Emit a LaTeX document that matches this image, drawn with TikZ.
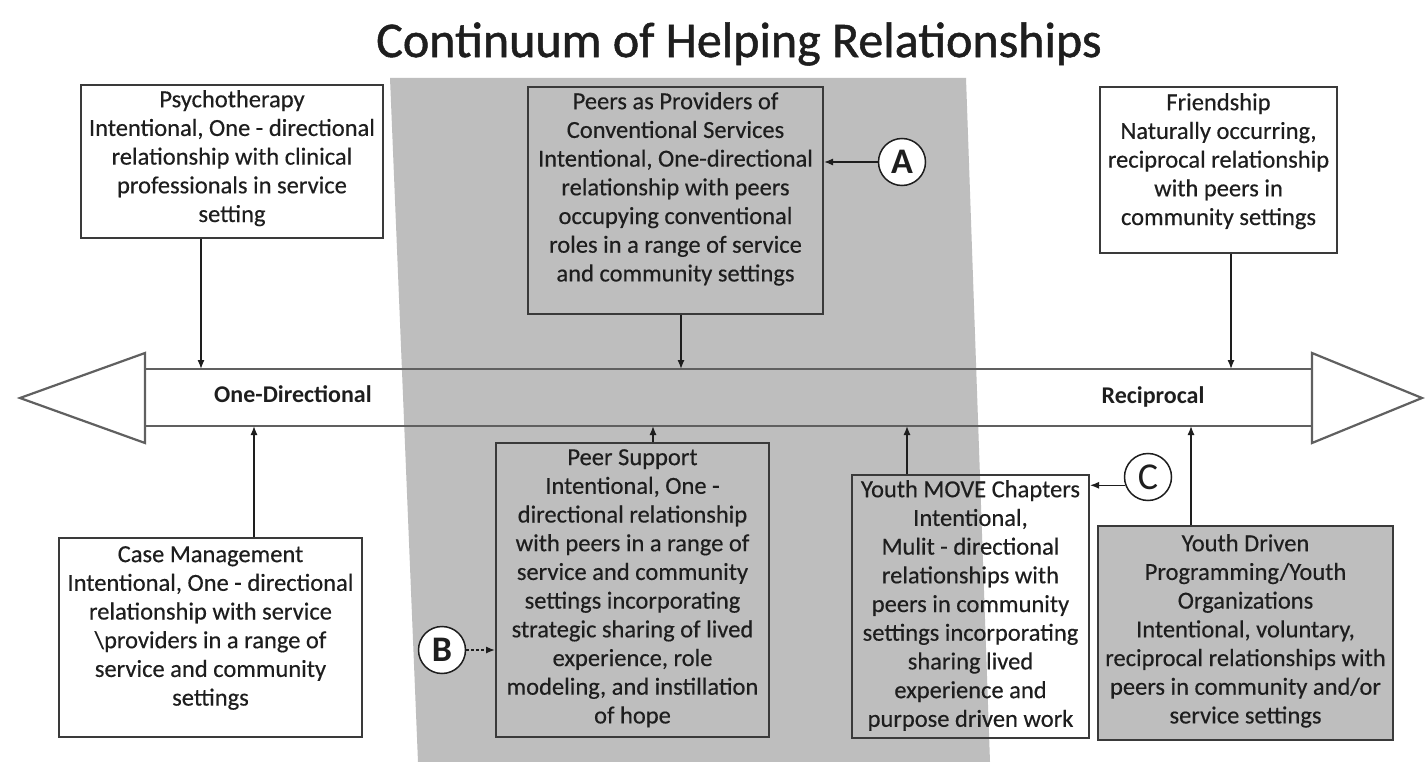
\documentclass[tikz,border=0pt]{standalone}
\usepackage{fontspec}
\setmainfont{Carlito}
\newfontfamily\titlefont[FakeBold=1]{Carlito}
\newfontfamily\bodyfont[FakeBold=0.35]{Carlito}
\usetikzlibrary{arrows.meta,calc}
\definecolor{band}{HTML}{BEBEBE}
\definecolor{boxline}{HTML}{3A3A3A}
\definecolor{txtc}{HTML}{1E1E1E}
\definecolor{shaftc}{HTML}{606060}
\begin{document}
\begin{tikzpicture}[x=1pt,y=-1pt,
  box/.style={draw=boxline, line width=2pt, inner sep=0pt, rectangle},
  wbox/.style={box, fill=white},
  gbox/.style={box, fill=band},
  txt/.style={anchor=north, align=center, inner sep=0pt, text=txtc, font=\bodyfont\fontsize{24.5}{28.7}\selectfont},
  conn/.style={draw=txtc, line width=1.3pt, -{Latex[length=9pt,width=7pt]}},
  letter/.style={circle, draw=txtc, fill=white, line width=1.5pt, minimum size=47pt, inner sep=0pt, text=txtc},
  axislabel/.style={font=\bfseries\fontsize{24}{24}\selectfont, text=txtc, inner sep=0pt},
  shaftline/.style={draw=shaftc, line width=2.2pt}]
\useasboundingbox (0,0) rectangle (1425,762);
\fill[white] (0,0) rectangle (1425,762);
% shaded band
\fill[band] (390,78) -- (966,78) -- (990,762) -- (418,762) -- cycle;
% title
\node[text=txtc, font=\titlefont\fontsize{50}{54}\selectfont] (title) at (739,44) {Continuum of Helping Relationships};
% double arrow
\draw[shaftline] (145,369) -- (1312,369);
\draw[shaftline] (145,426) -- (1312,426);
\draw[shaftline, fill=white, line join=miter] (145,353) -- (20,398) -- (145,443) -- cycle;
\draw[shaftline, fill=white, line join=miter] (1312,353) -- (1422,398) -- (1312,443) -- cycle;
\coordinate (shT) at (0,369);
\coordinate (shB) at (0,426);
\node[axislabel] (oned) at (293,394) {One-Directional};
\node[axislabel] (recip) at (1153,397) {Reciprocal};
% boxes
\node[wbox, minimum width=302pt, minimum height=153pt] (psy) at (232,161.5) {};
\node[box, minimum width=295pt, minimum height=227pt] (prov) at (675.5,200.5) {};
\node[wbox, minimum width=237pt, minimum height=166pt] (fri) at (1218.5,170) {};
\node[wbox, minimum width=303pt, minimum height=199pt] (case) at (210.5,637.5) {};
\node[box, minimum width=273pt, minimum height=294pt] (sup) at (632.5,590) {};
\node[box, minimum width=237pt, minimum height=263pt] (move) at (970.5,606.5) {};
\node[gbox, minimum width=295pt, minimum height=214pt] (drv) at (1245.5,633) {};
% box texts
\node[txt] (psyT) at ([yshift=-6pt]psy.north) {Psychotherapy\\Intentional, One - directional\\relationship with clinical\\professionals in service\\setting};
\node[txt] (provT) at ([yshift=-6pt]prov.north) {Peers as Providers of\\Conventional Services\\Intentional, One-directional\\relationship with peers\\occupying conventional\\roles in a range of service\\and community settings};
\node[txt] (friT) at ([yshift=-7pt]fri.north) {Friendship\\Naturally occurring,\\reciprocal relationship\\with peers in\\community settings};
\node[txt] (caseT) at ([yshift=-9pt]case.north) {Case Management\\Intentional, One - directional\\relationship with service\\{\textbackslash}providers in a range of\\service and community\\settings};
\node[txt] (supT) at ([yshift=-7pt]sup.north) {Peer Support\\Intentional, One -\\directional relationship\\with peers in a range of\\service and community\\settings incorporating\\strategic sharing of lived\\experience, role\\modeling, and instillation\\of hope};
\node[txt] (moveT) at ([yshift=-6pt]move.north) {Youth MOVE Chapters\\Intentional,\\Mulit - directional\\relationships with\\peers in community\\settings incorporating\\sharing lived\\experience and\\purpose driven work};
\node[txt] (drvT) at ([yshift=-9pt]drv.north) {Youth Driven\\Programming/Youth\\Organizations\\Intentional, voluntary,\\reciprocal relationships with\\peers in community and/or\\service settings};
% letter markers
\node[letter, font=\bfseries\fontsize{36}{36}\selectfont] (A) at (902,162) {A};
\node[letter, font=\bfseries\fontsize{36}{36}\selectfont] (B) at (442,650) {B};
\node[letter, font=\fontsize{38}{38}\selectfont] (C) at (1148,477) {C};
% connectors to the axis
\coordinate (x1) at (201,0);
\coordinate (x2) at (681,0);
\coordinate (x3) at (1231,0);
\coordinate (x4) at (254,0);
\coordinate (x5) at (653,0);
\coordinate (x6) at (907,0);
\coordinate (x7) at (1191,0);
\draw[conn] (psy.south -| x1) -- (shT -| x1);
\draw[conn] (prov.south -| x2) -- (shT -| x2);
\draw[conn] (fri.south -| x3) -- (shT -| x3);
\draw[conn] (case.north -| x4) -- (shB -| x4);
\draw[conn] (sup.north -| x5) -- (shB -| x5);
\draw[conn] (move.north -| x6) -- (shB -| x6);
\draw[conn] (drv.north -| x7) -- (shB -| x7);
% marker connectors
\draw[conn] (A) -- (A -| prov.east);
\draw[conn, densely dashed] (B) -- (B -| sup.west);
\draw[conn] (C.200) -- (C.200 -| move.east);
\end{tikzpicture}
\end{document}
